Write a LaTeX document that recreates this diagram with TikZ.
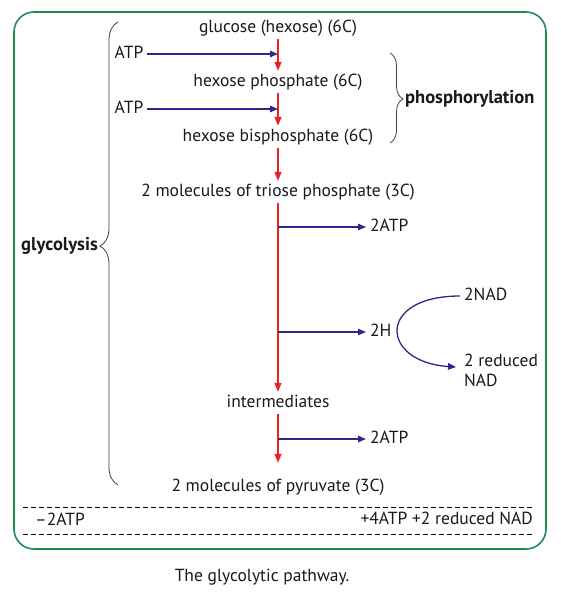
\documentclass[tikz,border=0pt]{standalone}
\usepackage{fontspec}
\setmainfont{PT Sans}
\usetikzlibrary{arrows.meta,decorations.pathreplacing}
\definecolor{boxgreen}{RGB}{30,140,80}
\definecolor{arrblue}{RGB}{45,40,140}
\definecolor{arrred}{RGB}{232,35,35}
\begin{document}
\begin{tikzpicture}[x=1pt,y=-1pt,
    every node/.style={font=\fontsize{17.5}{20}\selectfont,text=black!90},
    stage/.style={inner xsep=4pt,inner ysep=2.75pt,text height=12.5pt,text depth=4pt},
    headline/.style={font=\fontsize{18.5}{20}\selectfont\bfseries,inner sep=3pt},
    redarr/.style={arrred,line width=1.3pt,-{Triangle[length=9pt,width=7pt]}},
    bluearr/.style={arrblue,line width=1.3pt,-{Triangle[length=8pt,width=6.5pt]}},
    curly/.style={black!75,line width=0.8pt,decorate},
    tally/.style={dash pattern=on 5pt off 3pt,line width=0.7pt}]
      \useasboundingbox (0,0) rectangle (561,604);
      \draw[boxgreen,line width=1.6pt,rounded corners=20pt] (14,12) rectangle (546,549);
      \node[stage] (glu) at (278,28) {glucose (hexose) (6C)};
      \node[stage] (hp) at (278,82) {hexose phosphate (6C)};
      \node[stage] (hbp) at (278,137) {hexose bisphosphate (6C)};
      \node[stage] (tri) at (278,192) {2 molecules of triose phosphate (3C)};
      \node[stage] (mid) at (278,403) {intermediates};
      \node[stage] (pyr) at (278,487) {2 molecules of pyruvate (3C)};
      \node[stage] (atpA) at (129,54) {ATP};
      \node[stage] (atpB) at (129,109) {ATP};
      \node[stage,anchor=west] (outA) at (366,227) {2ATP};
      \node[stage,anchor=west] (hh) at (366,332) {2H};
      \node[stage,anchor=west] (outB) at (366,439) {2ATP};
      \node[stage,anchor=west] (nad) at (460,296) {2NAD};
      \node[anchor=west,align=left,inner sep=4pt] (rnad) at (460,370) {2 reduced\\NAD};
      \node[headline,anchor=east] (gly) at (101,246) {glycolysis};
      \node[headline,anchor=west] (phos) at (402,99) {phosphorylation};
      \node[stage,anchor=west] (lost) at (31,521) {--2ATP};
      \node[stage,anchor=east] (gain) at (537,520) {+4ATP +2 reduced NAD};
      \node (cap) at (262,577) {The glycolytic pathway.};
      \draw[redarr] (glu) -- (hp);
      \draw[redarr] (hp) -- (hbp);
      \draw[redarr] (hbp) -- (tri);
      \draw[redarr] (tri) -- (mid);
      \draw[redarr,shorten >=13pt] (mid) -- (pyr);
      \draw[bluearr] (atpA) -- (glu |- atpA);
      \draw[bluearr] (atpB) -- (hp |- atpB);
      \draw[bluearr] (tri |- outA) -- (outA);
      \draw[bluearr] (tri |- hh) -- (hh);
      \draw[bluearr] (mid |- outB) -- (outB);
      \draw[bluearr] (nad.west) .. controls +(-84,0) and +(-76,-5) .. ([xshift=-4pt,yshift=3pt]rnad.west);
      \coordinate (gtop) at (118,22);
      \coordinate (gbot) at (118,485);
      \draw[curly,decoration={brace,amplitude=18pt,aspect=0.516}] (gbot) -- (gtop);
      \coordinate (ptop) at (390,53);
      \coordinate (pbot) at (390,143);
      \draw[curly,decoration={brace,amplitude=13pt,aspect=0.51}] (ptop) -- (pbot);
      \draw[tally] (23,507) -- (533,507);
      \draw[tally] (23,534) -- (533,534);
    \end{tikzpicture}
\end{document}
